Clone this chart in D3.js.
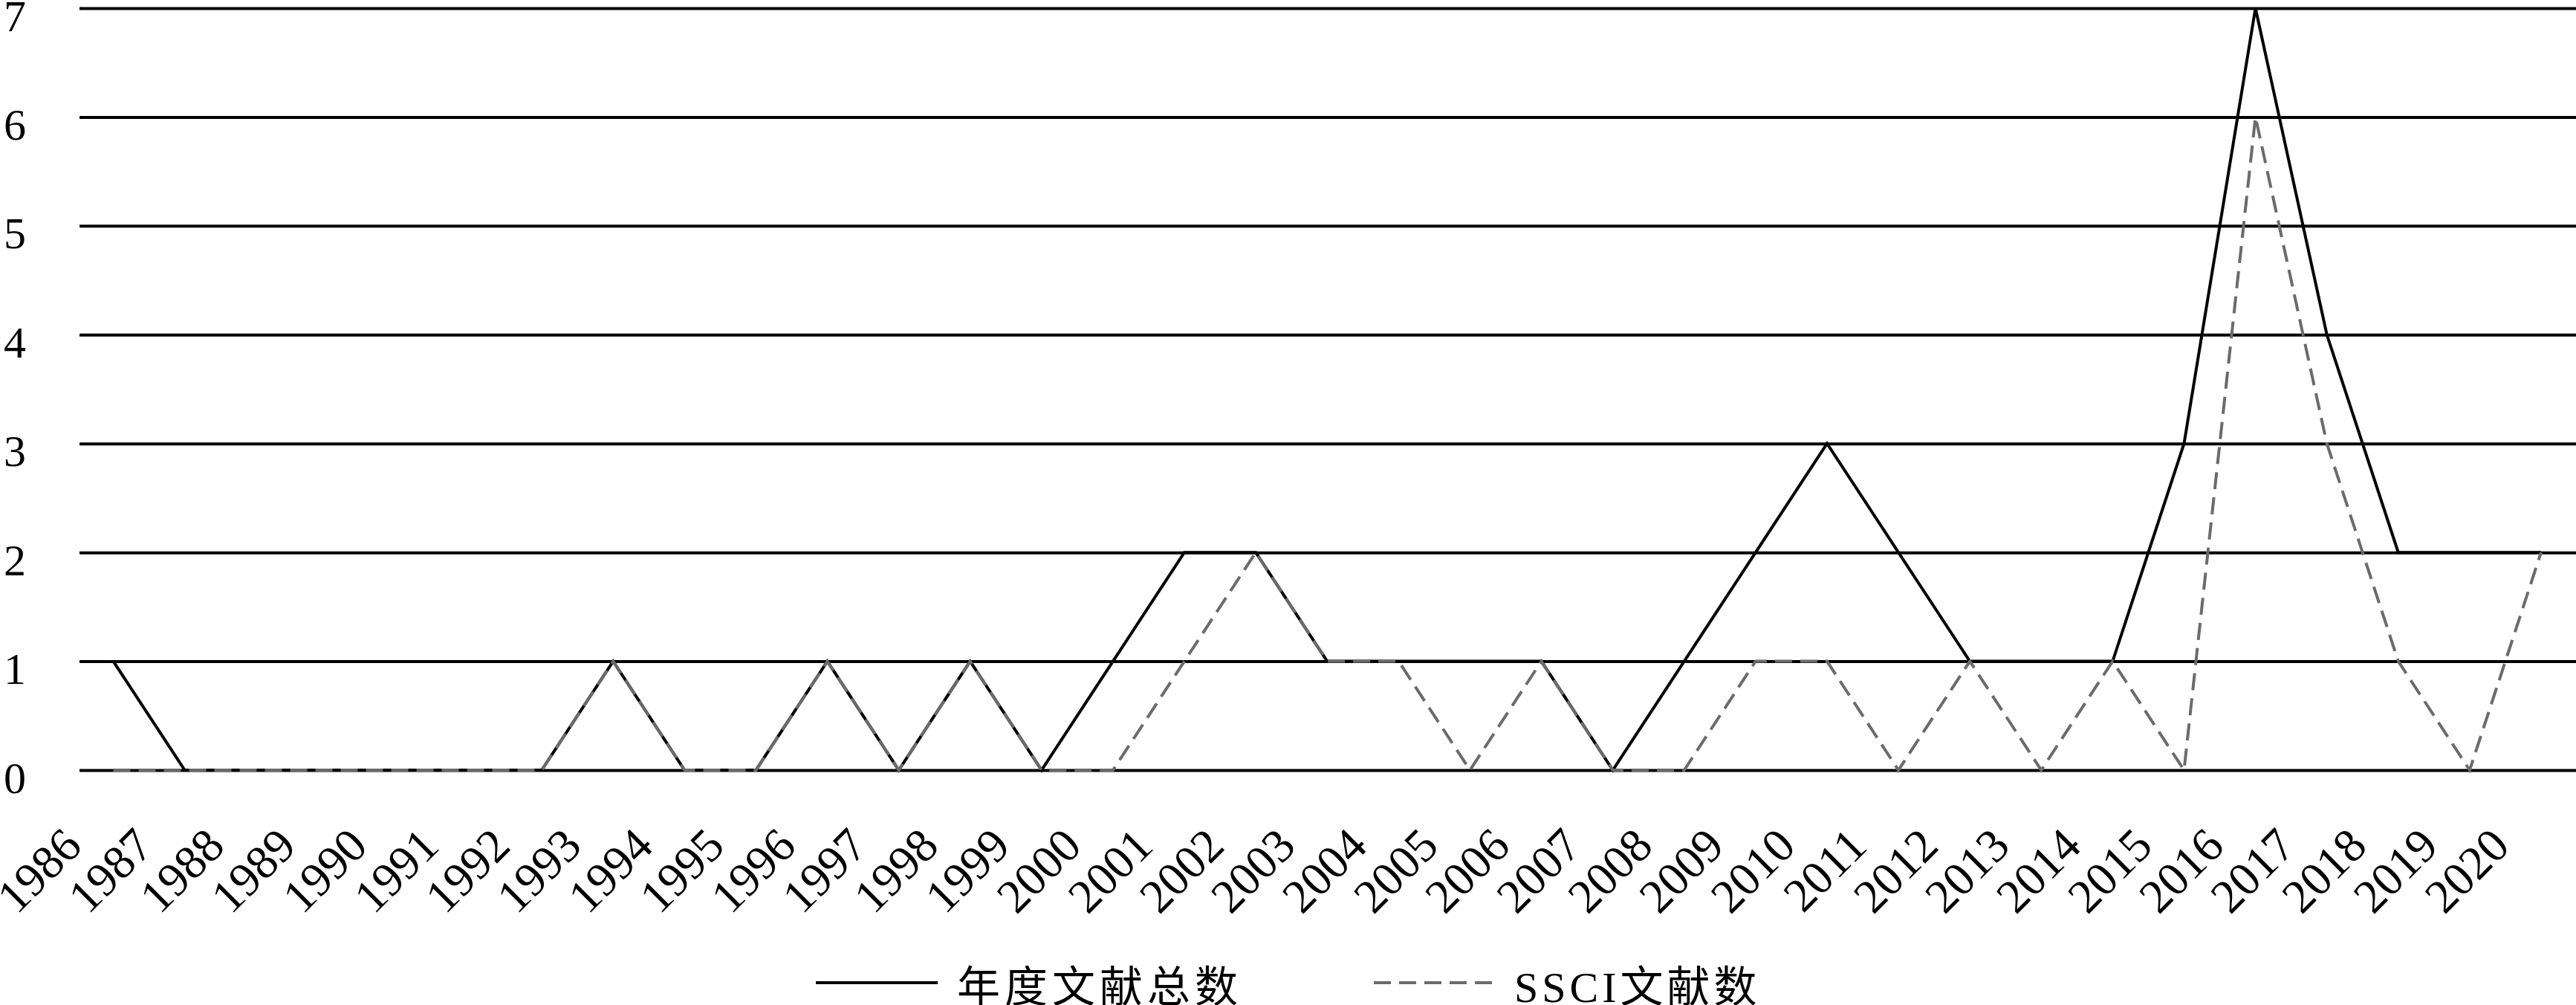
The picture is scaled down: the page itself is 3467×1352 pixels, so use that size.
<!DOCTYPE html>
<html><head><meta charset="utf-8">
<script src="https://cdn.jsdelivr.net/npm/d3@7"></script>
<style>html,body{margin:0;padding:0;background:#fff;} svg{display:block;}</style>
</head><body><div id="chart"></div>
<script>
const years = ["1986","1987","1988","1989","1990","1991","1992","1993","1994","1995","1996","1997","1998","1999","2000","2001","2002","2003","2004","2005","2006","2007","2008","2009","2010","2011","2012","2013","2014","2015","2016","2017","2018","2019","2020"];
const totalCounts = [1,0,0,0,0,0,0,1,0,0,1,0,1,0,1,2,2,1,1,1,1,0,1,2,3,2,1,1,1,3,7,4,2,2,2];
const ssciCounts  = [0,0,0,0,0,0,0,1,0,0,1,0,1,0,0,1,2,1,1,0,1,0,0,1,1,0,1,0,1,0,6,3,1,0,2];
const yTicks = [0,1,2,3,4,5,6,7];
const seriesNames = ["年度文献总数","SSCI文献数"];

const W = 3467, H = 1352;
const plotLeft = 107, plotRight = W;
const serif = "'Liberation Serif','Times New Roman',serif";
const legendFont = "'Liberation Serif','Noto Sans CJK SC',serif";
const grayCol = "#6b6b6b";
const dash = "23,11";

const svg = d3.select("#chart").append("svg").attr("width", W).attr("height", H)
  .style("background", "#fff");

const x = d3.scalePoint().domain(years).range([152.5, 3420]);
const y = d3.scaleLinear().domain([0, 7]).range([1036, 11]);

// y grid + labels
const gy = svg.append("g").attr("transform", `translate(${plotLeft},0)`)
  .call(d3.axisLeft(y).tickValues(yTicks).tickSize(-(plotRight - plotLeft)).tickFormat(d3.format("d")));
gy.select(".domain").remove();
gy.attr("font-family", serif).attr("font-size", 60).attr("text-anchor", "start");
gy.selectAll(".tick line").attr("stroke", "#000").attr("stroke-width", 4);
gy.selectAll(".tick text").attr("x", 5 - plotLeft).attr("y", 30).attr("dy", null).attr("fill", "#000");

// x labels
const gx = svg.append("g").attr("transform", "translate(0,1141)")
  .call(d3.axisBottom(x).tickSize(0));
gx.select(".domain").remove();
gx.attr("font-family", serif).attr("font-size", 64).attr("text-anchor", "end");
gx.selectAll(".tick text").attr("x", 0).attr("y", 0).attr("dy", null).attr("fill", "#000")
  .attr("transform", "translate(-40,0) rotate(-45)");

// series
const line = d3.line().x((d, i) => x(years[i])).y(d => y(d));
svg.append("path").datum(totalCounts).attr("d", line)
  .attr("fill", "none").attr("stroke", "#000").attr("stroke-width", 4);
svg.append("path").datum(ssciCounts).attr("d", line)
  .attr("fill", "none").attr("stroke", grayCol).attr("stroke-width", 4).attr("stroke-dasharray", dash);

// legend
const lg = svg.append("g");
const ly = 1322;
lg.append("line").attr("x1", 1098).attr("x2", 1262).attr("y1", ly).attr("y2", ly)
  .attr("stroke", "#000").attr("stroke-width", 4);
lg.append("text").attr("x", 1288).attr("y", 1348).text(seriesNames[0])
  .attr("font-family", legendFont).attr("font-size", 58).attr("letter-spacing", 6).attr("fill", "#000");
lg.append("line").attr("x1", 1849).attr("x2", 2011).attr("y1", ly).attr("y2", ly)
  .attr("stroke", grayCol).attr("stroke-width", 4).attr("stroke-dasharray", dash);
lg.append("text").attr("x", 2038).attr("y", 1348).text(seriesNames[1])
  .attr("font-family", legendFont).attr("font-size", 58).attr("letter-spacing", 5).attr("fill", "#000");
</script></body></html>
